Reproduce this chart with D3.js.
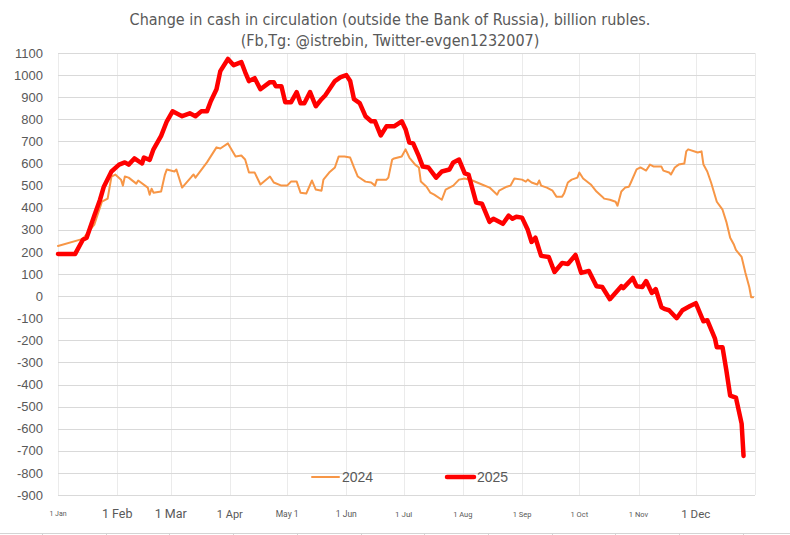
<!DOCTYPE html>
<html>
<head>
<meta charset="utf-8">
<script src="https://cdn.jsdelivr.net/npm/d3@7"></script>
<style>
  html, body { margin: 0; padding: 0; background: #fff; }
  svg { display: block; }
</style>
</head>
<body>
<div class="chart"></div>
<script>
// chart data
const titleLines = [
  'Change in cash in circulation (outside the Bank of Russia), billion rubles.',
  '(Fb,Tg: @istrebin, Twitter-evgen1232007)'
];
const seriesNames = ['2024', '2025'];
const monthLabels = ['1 Jan', '1 Feb', '1 Mar', '1 Apr', 'May 1', '1 Jun', '1 Jul', '1 Aug', '1 Sep', '1 Oct', '1 Nov', '1 Dec'];
const yTickValues = d3.range(-900, 1101, 100);

// 2024 plotted by day of year
const dates2024 = ['01-01','01-14','01-20','01-24','01-27','01-29','01-31','02-03','02-04','02-05','02-07','02-11','02-12','02-17','02-18','02-19','02-20','02-24','02-26','02-27','03-03','03-04','03-07','03-12','03-13','03-14','03-20','03-25','03-27','03-31','04-04','04-07','04-09','04-11','04-14','04-17','04-22','04-24','04-28','05-01','05-03','05-06','05-08','05-11','05-14','05-16','05-19','05-20','05-23','05-26','05-28','05-31','06-03','06-05','06-07','06-11','06-14','06-16','06-17','06-19','06-22','06-23','06-25','06-26','06-30','07-02','07-04','07-07','07-09','07-10','07-13','07-15','07-17','07-21','07-23','07-27','07-30','08-02','08-06','08-11','08-15','08-19','08-20','08-24','08-26','08-28','09-01','09-03','09-04','09-06','09-09','09-10','09-11','09-14','09-17','09-19','09-22','09-23','09-25','09-27','09-30','10-01','10-03','10-07','10-10','10-13','10-14','10-17','10-20','10-21','10-23','10-25','10-27','10-28','10-31','11-02','11-05','11-07','11-09','11-13','11-14','11-17','11-18','11-20','11-22','11-25','11-26','11-27','12-02','12-04','12-05','12-07','12-09','12-12','12-15','12-17','12-19','12-21','12-22','12-25','12-27','12-29','12-30','12-31'];
const values2024 = [227,259,323,427,441,541,550,527,500,541,536,509,523,491,459,486,468,473,550,573,564,573,491,541,550,536,605,673,668,691,632,636,618,559,559,505,541,514,500,500,518,518,468,464,523,482,477,527,559,582,632,632,627,582,541,518,514,500,527,527,527,536,618,623,632,664,627,595,582,518,495,468,459,436,482,500,527,532,523,505,491,459,477,495,500,532,527,518,527,514,505,523,500,491,477,450,450,464,514,527,536,559,532,505,473,450,441,436,427,409,473,491,495,514,573,582,568,595,586,586,568,559,550,582,595,600,655,664,650,655,595,564,514,427,391,336,264,232,209,177,105,41,-5,-5];

const dates2025 = ['01-01','01-10','01-14','01-16','01-18','01-20','01-23','01-25','01-29','02-02','02-05','02-07','02-10','02-14','02-15','02-18','02-20','02-24','02-27','03-02','03-05','03-07','03-11','03-14','03-17','03-20','03-22','03-25','03-27','03-31','04-03','04-07','04-09','04-11','04-14','04-17','04-22','04-24','04-25','04-28','04-30','05-03','05-06','05-08','05-10','05-13','05-16','05-19','05-21','05-26','05-29','06-01','06-03','06-05','06-08','06-11','06-14','06-16','06-19','06-22','06-26','06-30','07-02','07-04','07-06','07-09','07-11','07-14','07-18','07-21','07-25','07-27','07-30','08-02','08-04','08-08','08-11','08-15','08-17','08-22','08-25','08-27','08-29','09-01','09-04','09-06','09-08','09-11','09-15','09-18','09-22','09-25','09-29','10-02','10-06','10-10','10-13','10-17','10-23','10-24','10-29','10-31','11-03','11-05','11-08','11-10','11-13','11-15','11-17','11-21','11-24','11-28','12-01','12-05','12-07','12-11','12-12','12-15','12-17','12-19','12-22','12-25','12-26'];
const values2025 = [191,191,255,264,314,364,436,495,564,595,605,595,623,600,627,616,664,725,791,836,823,814,827,814,836,836,882,936,1018,1073,1045,1059,1014,973,986,936,968,968,950,950,877,877,923,873,873,923,859,891,909,973,991,1000,973,891,873,814,791,791,727,768,768,791,755,695,691,632,586,582,536,564,573,605,618,555,550,423,418,336,350,327,364,350,359,355,300,245,264,182,177,109,150,145,186,105,114,45,41,-14,45,36,82,45,41,68,14,32,-50,-59,-64,-100,-64,-45,-32,-114,-109,-191,-232,-232,-336,-450,-459,-577,-723];

// styling
const textColor = '#595959';
const seriesColors = ['#F79646', '#FF0000'];
const seriesWidths = [2, 4.5];
const monthLabelSizes = [7, 12.5, 12.5, 11, 8.5, 8.5, 8, 7.5, 7.5, 7.5, 7.5, 11.5];

const W = 790, H = 535;
const parse = d3.utcParse('%Y-%m-%d');
const toPoints = (dates, vals) => dates.map((d, i) => ({ date: parse('2025-' + d), value: vals[i] }));
const series = [toPoints(dates2024, values2024), toPoints(dates2025, values2025)];

const x = d3.scaleUtc([Date.UTC(2025, 0, 1), Date.UTC(2026, 0, 1)], [58, 755]);
const y = d3.scaleLinear([-900, 1100], [495, 53]);
const monthStarts = d3.utcMonth.range(new Date(Date.UTC(2025, 0, 1)), new Date(Date.UTC(2026, 0, 2)));

const svg = d3.select('.chart').append('svg')
    .attr('width', W)
    .attr('height', H)
    .attr('viewBox', `0 0 ${W} ${H}`);

// sheet cell lines under the chart
svg.append('line')
    .attr('x1', 0).attr('x2', W).attr('y1', 533.5).attr('y2', 533.5)
    .attr('stroke', '#d4d4d4');
svg.append('g')
    .selectAll('line')
    .data(d3.range(42, W, 63.7))
    .join('line')
        .attr('x1', d => Math.round(d) + 0.5).attr('x2', d => Math.round(d) + 0.5)
        .attr('y1', 533).attr('y2', H)
        .attr('stroke', '#d4d4d4');

// title
svg.append('g')
    .selectAll('text')
    .data(titleLines)
    .join('text')
        .attr('x', 390)
        .attr('y', (d, i) => 25 + i * 21)
        .attr('text-anchor', 'middle')
        .attr('font-family', '"Liberation Sans Narrow", "DejaVu Sans Condensed", sans-serif')
        .attr('font-size', 16)
        .attr('fill', textColor)
        .text(d => d);

// vertical grid
svg.append('g')
    .selectAll('line')
    .data(monthStarts)
    .join('line')
        .attr('x1', d => Math.round(x(d)) + 0.5)
        .attr('x2', d => Math.round(x(d)) + 0.5)
        .attr('y1', y(1100)).attr('y2', y(-900))
        .attr('stroke', '#ebebeb');

// horizontal grid
svg.append('g')
    .selectAll('line')
    .data(yTickValues)
    .join('line')
        .attr('x1', 58).attr('x2', 755)
        .attr('y1', d => Math.round(y(d)) + 0.5)
        .attr('y2', d => Math.round(y(d)) + 0.5)
        .attr('stroke', '#d9d9d9');

// y axis labels
svg.append('g')
    .selectAll('text')
    .data(yTickValues)
    .join('text')
        .attr('x', 43)
        .attr('y', d => y(d))
        .attr('dy', '0.36em')
        .attr('text-anchor', 'end')
        .attr('font-family', '"Liberation Sans", Arial, sans-serif')
        .attr('font-size', 13)
        .attr('fill', textColor)
        .text(d => d);

// month labels
svg.append('g')
    .selectAll('text')
    .data(monthLabels)
    .join('text')
        .attr('x', (d, i) => x(monthStarts[i]))
        .attr('y', (d, i) => 514 + monthLabelSizes[i] * 0.35)
        .attr('text-anchor', 'middle')
        .attr('font-family', 'Roboto, "Liberation Sans", sans-serif')
        .attr('font-size', (d, i) => monthLabelSizes[i])
        .attr('fill', textColor)
        .text(d => d);

// lines
const line = d3.line()
    .x(d => x(d.date))
    .y(d => y(d.value));

svg.append('g')
    .selectAll('path')
    .data(series)
    .join('path')
        .attr('fill', 'none')
        .attr('stroke', (d, i) => seriesColors[i])
        .attr('stroke-width', (d, i) => seriesWidths[i])
        .attr('stroke-linejoin', 'round')
        .attr('stroke-linecap', 'round')
        .attr('d', line);

// legend
const legend = svg.append('g')
    .selectAll('g')
    .data(seriesNames)
    .join('g')
        .attr('transform', (d, i) => `translate(${312 + i * 135},477)`);
legend.append('line')
    .attr('x1', 0).attr('x2', 27)
    .attr('stroke', (d, i) => seriesColors[i])
    .attr('stroke-width', (d, i) => seriesWidths[i])
    .attr('stroke-linecap', 'round');
legend.append('text')
    .attr('x', 30)
    .attr('dy', '0.36em')
    .attr('font-family', '"Liberation Sans", Arial, sans-serif')
    .attr('font-size', 14)
    .attr('fill', textColor)
    .text(d => d);
</script>
</body>
</html>
